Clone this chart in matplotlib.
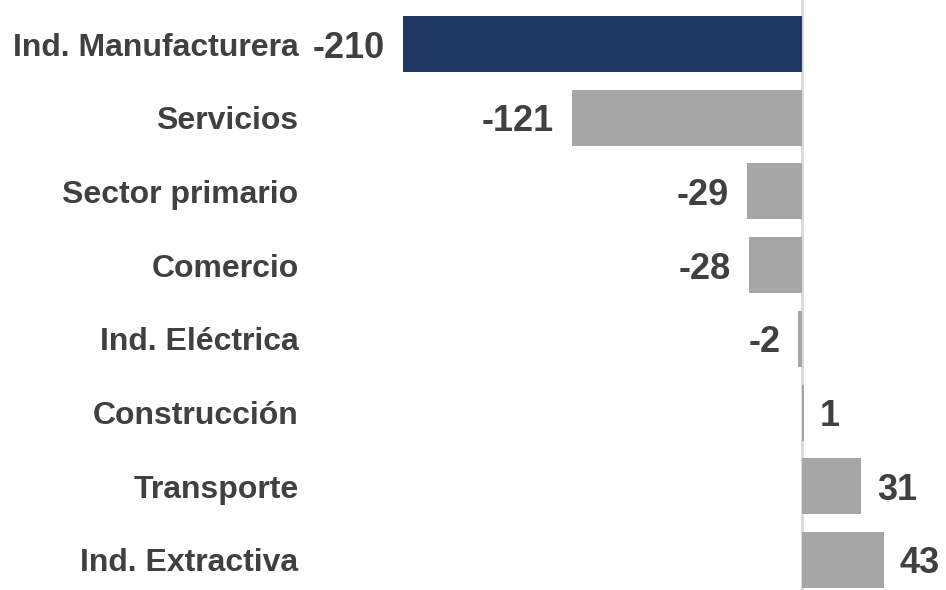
import matplotlib.pyplot as plt

# variación por sector (miles de empleos)
sectores = ["Ind. Manufacturera", "Servicios", "Sector primario", "Comercio",
            "Ind. Eléctrica", "Construcción", "Transporte", "Ind. Extractiva"]
valores = [-210, -121, -29, -28, -2, 1, 31, 43]

navy = "#1F3864"
gris = "#A6A6A6"
texto = "#404040"

plt.rcParams['font.family'] = ['Liberation Sans', 'DejaVu Sans']

fig = plt.figure(figsize=(9.46, 5.90), dpi=100)
ax = fig.add_axes([400 / 946, 0, 500 / 946, 1])

colores = [navy] + [gris] * (len(valores) - 1)
pos = list(range(len(sectores)))
ax.barh(pos, valores, height=0.76, color=colores, zorder=2)
ax.axvline(0, color="#D9D9D9", lw=2, zorder=1)

ax.set_xlim(-211.6, 51.5)
ax.set_ylim(7.407, -0.597)

ax.set_yticks(pos)
ax.set_yticklabels(sectores, fontsize=23, fontweight="bold", color=texto)
ax.tick_params(axis="y", length=0, pad=73)
ax.set_xticks([])
for s in ax.spines.values():
    s.set_visible(False)

for y, v in zip(pos, valores):
    if v < 0:
        ax.annotate(str(v), (v, y), xytext=(-13, 0), textcoords="offset points",
                    ha="right", va="center_baseline", fontsize=26, fontweight="bold", color=texto)
    else:
        ax.annotate(str(v), (v, y), xytext=(11.5, 0), textcoords="offset points",
                    ha="left", va="center_baseline", fontsize=26, fontweight="bold", color=texto)

fig.savefig("out.png", dpi=100)
